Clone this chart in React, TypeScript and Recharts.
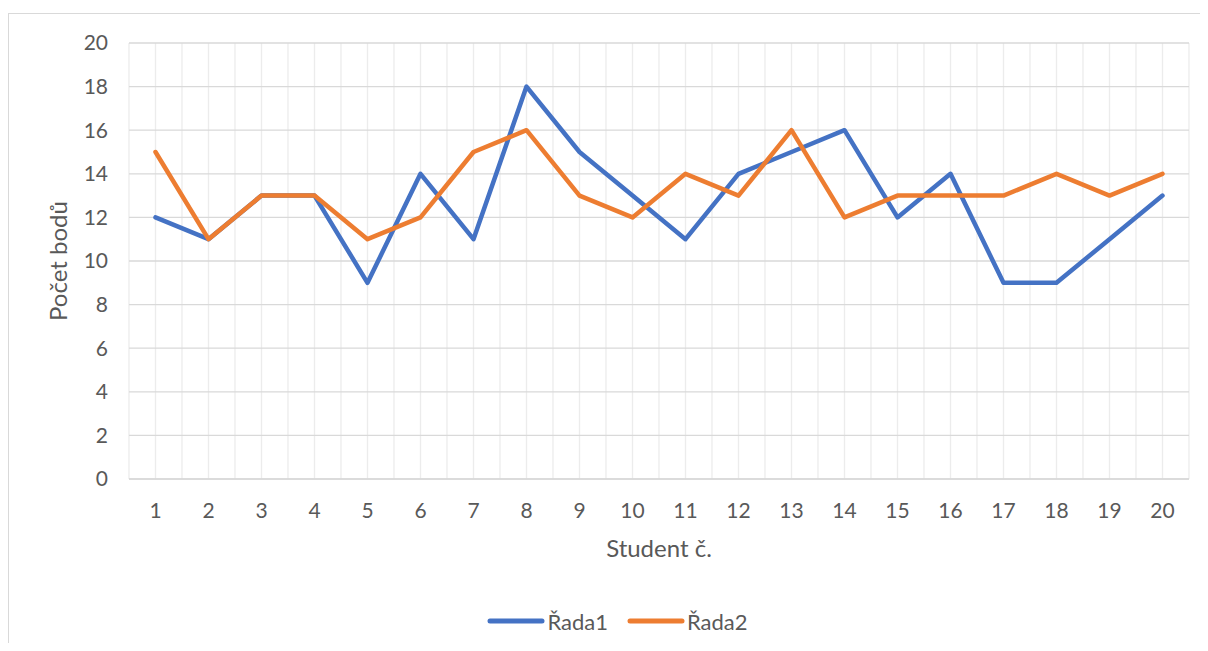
import React from 'react';
import { LineChart, Line, XAxis, YAxis, CartesianGrid, Legend, Label } from 'recharts';

const categories = ['1', '2', '3', '4', '5', '6', '7', '8', '9', '10', '11', '12', '13', '14', '15', '16', '17', '18', '19', '20'];
const rada1 = [12, 11, 13, 13, 9, 14, 11, 18, 15, 13, 11, 14, 15, 16, 12, 14, 9, 9, 11, 13];
const rada2 = [15, 11, 13, 13, 11, 12, 15, 16, 13, 12, 14, 13, 16, 12, 13, 13, 13, 14, 13, 14];
const yTicks = [0, 2, 4, 6, 8, 10, 12, 14, 16, 18, 20];

const FONT = 'Lato, "Open Sans", sans-serif';
const TEXT = '#595959';

const data = categories.map((c, i) => ({ x: i + 1, label: c, r1: rada1[i], r2: rada2[i] }));
// gridlines at category centres and boundaries
const xTicks: number[] = [];
for (let i = 0; i <= categories.length * 2; i++) xTicks.push(0.5 + i / 2);

const LegendContent = (props: any) => {
  const { payload } = props;
  return (
    <div
      style={{
        display: 'flex',
        justifyContent: 'center',
        alignItems: 'center',
        gap: 19,
        height: 30,
        paddingLeft: 46,
        fontFamily: FONT,
      }}
    >
      {payload.map((p: any) => (
        <div key={p.value} style={{ display: 'flex', alignItems: 'center' }}>
          <svg width={58} height={10}>
            <line x1={3} y1={5} x2={55} y2={5} stroke={p.color} strokeWidth={5} strokeLinecap="round" />
          </svg>
          <span style={{ color: TEXT, fontSize: 22, marginLeft: 2 }}>{p.value}</span>
        </div>
      ))}
    </div>
  );
};

export default function App() {
  return (
    <div style={{ position: 'relative', margin: -8, width: 1208, height: 651, overflow: 'hidden', background: '#fff' }}>
      <div
        style={{
          position: 'absolute',
          left: 8,
          top: 13,
          width: 1220,
          height: 660,
          borderTop: '1px solid #d9d9d9',
          borderLeft: '1px solid #d9d9d9',
        }}
      />
      <div style={{ position: 'absolute', left: 0, top: 0 }}>
        <LineChart width={1208} height={651} data={data} margin={{ top: 43, right: 19, left: 0, bottom: 15 }}>
          <CartesianGrid horizontal={false} stroke="#ececec" strokeWidth={1.3} />
          <CartesianGrid vertical={false} stroke="#d9d9d9" strokeWidth={1.3} />
          <XAxis
            dataKey="x"
            type="number"
            domain={[0.5, 20.5]}
            ticks={xTicks}
            interval={0}
            tickFormatter={(v: number) => (Number.isInteger(v) ? categories[v - 1] : '')}
            tick={{ fill: TEXT, fontSize: 21, fontFamily: FONT }}
            tickLine={false}
            tickSize={0}
            tickMargin={24}
            axisLine={{ stroke: '#d9d9d9', strokeWidth: 1.3 }}
            height={127}
          >
            <Label value="Student č." position="insideBottom" offset={49} fill={TEXT} fontSize={24} fontFamily={FONT} />
          </XAxis>
          <YAxis
            domain={[0, 20]}
            ticks={yTicks}
            interval={0}
            tick={{ fill: TEXT, fontSize: 21, fontFamily: FONT }}
            tickLine={false}
            tickSize={0}
            tickMargin={21}
            axisLine={false}
            width={129}
          >
            <Label
              value="Počet bodů"
              angle={-90}
              position="insideLeft"
              offset={58}
              fill={TEXT}
              fontSize={24}
              fontFamily={FONT}
              style={{ textAnchor: 'middle' }}
            />
          </YAxis>
          <Legend verticalAlign="bottom" height={30} content={<LegendContent />} />
          <Line
            type="linear"
            dataKey="r1"
            name="Řada1"
            stroke="#4472C4"
            strokeWidth={4.5}
            strokeLinejoin="round"
            strokeLinecap="round"
            dot={false}
            isAnimationActive={false}
          />
          <Line
            type="linear"
            dataKey="r2"
            name="Řada2"
            stroke="#ED7D31"
            strokeWidth={4.5}
            strokeLinejoin="round"
            strokeLinecap="round"
            dot={false}
            isAnimationActive={false}
          />
        </LineChart>
      </div>
    </div>
  );
}
